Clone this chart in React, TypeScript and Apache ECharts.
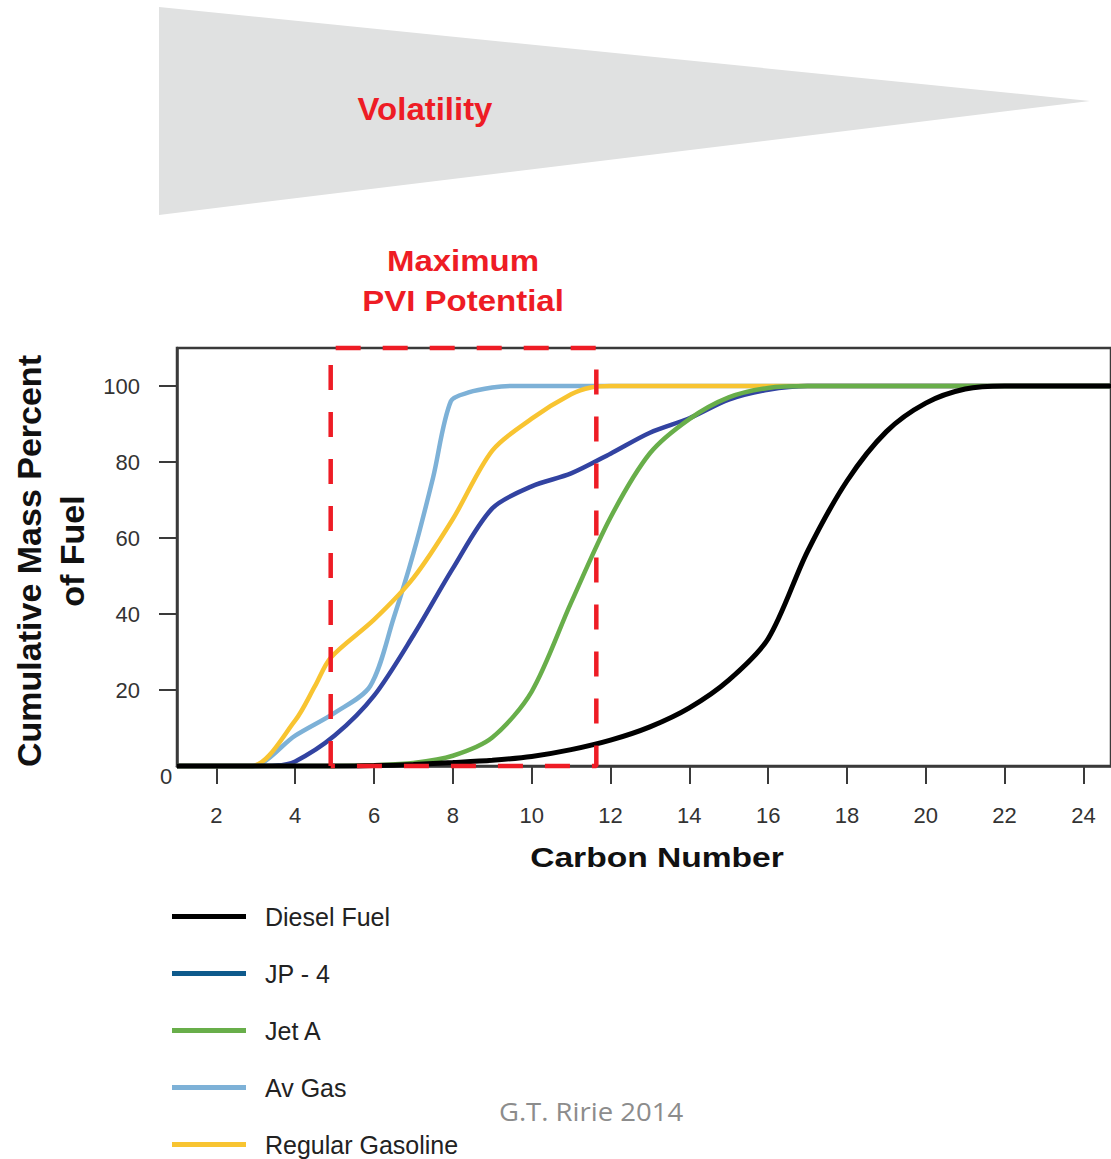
import React, { useEffect, useRef } from "react";
import * as echarts from "echarts";

// ---- axis ranges / ticks ----
const X_MIN = 1;
const X_MAX = 24.7;
const Y_MIN = 0;
const Y_MAX = 110;
const carbonTicks = [2, 4, 6, 8, 10, 12, 14, 16, 18, 20, 22, 24];
const percentTicks = [20, 40, 60, 80, 100];

// ---- "Maximum PVI Potential" window (carbon number) ----
const PVI_MIN = 4.9;
const PVI_MAX = 11.64;

// ---- series (carbon number, cumulative mass percent) ----
const seriesNames = ["Diesel Fuel", "JP - 4", "Jet A", "Av Gas", "Regular Gasoline"];

const dieselCarbon = [1, 2, 3, 4, 5, 6, 7, 8, 9, 10, 11, 12, 13, 14, 15, 16, 17, 18, 19, 20, 21, 22, 23, 24, 24.7];
const dieselPct = [0, 0, 0, 0, 0, 0.1, 0.4, 0.9, 1.5, 2.5, 4.3, 6.8, 10.3, 15.3, 22.6, 33.5, 56.5, 75, 88, 95.5, 99.2, 100, 100, 100, 100];

const jp4Carbon = [1, 2, 3, 3.5, 4, 5, 6, 7, 8, 9, 10, 11, 12, 13, 14, 15, 16, 17, 18, 24.7];
const jp4Pct = [0, 0, 0, 0.1, 1.2, 8, 18.5, 34.4, 52, 67.8, 73.6, 77, 82.2, 87.7, 91.5, 96.4, 99, 100, 100, 100];

const jetACarbon = [1, 2, 3, 4, 5, 6, 7, 8, 9, 10, 11, 12, 13, 14, 15, 16, 17, 18, 24.7];
const jetAPct = [0, 0, 0, 0, 0, 0.2, 0.8, 2.7, 7.5, 19.6, 43, 65.4, 82.3, 91.3, 97, 99.5, 100, 100, 100];

const avGasCarbon = [1, 2, 2.9, 4, 5, 5.9, 6.5, 7, 7.5, 7.95, 8.4, 9, 9.5, 24.7];
const avGasPct = [0, 0, 0, 8, 14, 21, 39, 56, 76, 96, 98.3, 99.6, 100, 100];

const gasolineCarbon = [1, 2, 2.9, 4, 4.5, 4.9, 6, 7, 8, 9, 10, 11, 11.5, 12, 24.7];
const gasolinePct = [0, 0, 0, 12, 21, 28.5, 38.5, 49.5, 65, 83, 91.4, 97.8, 99.6, 100, 100];

const zip = (xs: number[], ys: number[]) => xs.map((x, i) => [x, ys[i]]);

const RED = "#ee1c25";
const AXIS = "#3a3a3a";

export default function App() {
  const ref = useRef<HTMLDivElement>(null);

  useEffect(() => {
    if (!ref.current) return;
    const chart = echarts.init(ref.current, undefined, { renderer: "svg" });

    const mk = (name: string, xs: number[], ys: number[], color: string, z: number, width = 4.5) => ({
      name,
      type: "line",
      data: zip(xs, ys),
      symbol: "none",
      smooth: 0.3,
      clip: false,
      z,
      lineStyle: { width, color },
      itemStyle: { color },
      emphasis: { disabled: true },
    });

    const textStyle = (text: string, font: string, fill: string) => ({
      text,
      fill,
      font,
      align: "center",
      verticalAlign: "middle",
      textAlign: "center",
      textVerticalAlign: "middle",
    });

    const option: any = {
      animation: false,
      backgroundColor: "#ffffff",
      grid: {
        left: 177,
        right: -4,
        top: 348,
        bottom: 393,
        show: true,
        borderColor: AXIS,
        borderWidth: 2.5,
        backgroundColor: "transparent",
      },
      xAxis: {
        type: "value",
        min: X_MIN,
        max: X_MAX,
        axisLine: { show: true, onZero: false, lineStyle: { color: AXIS, width: 2.5 } },
        axisTick: { show: true, length: 18, lineStyle: { color: AXIS, width: 2 }, customValues: carbonTicks },
        axisLabel: {
          customValues: carbonTicks,
          fontSize: 22,
          color: "#333",
          margin: 38,
          fontFamily: "Liberation Sans",
        },
        splitLine: { show: false },
      },
      yAxis: {
        type: "value",
        min: Y_MIN,
        max: Y_MAX,
        axisLine: { show: true, onZero: false, lineStyle: { color: AXIS, width: 2.5 } },
        axisTick: { show: true, length: 18, lineStyle: { color: AXIS, width: 2 }, customValues: percentTicks },
        axisLabel: {
          customValues: percentTicks,
          fontSize: 22,
          color: "#333",
          margin: 37,
          fontFamily: "Liberation Sans",
        },
        splitLine: { show: false },
      },
      legend: {
        orient: "vertical",
        left: 172,
        top: 904,
        height: 400,
        padding: 0,
        icon: "rect",
        itemWidth: 74,
        itemHeight: 5,
        itemGap: 32,
        selectedMode: false,
        textStyle: {
          fontSize: 25,
          lineHeight: 25,
          color: "#222",
          fontFamily: "Liberation Sans",
          padding: [0, 0, 0, 14],
        },
        data: [
          { name: seriesNames[0] },
          { name: seriesNames[1], itemStyle: { color: "#0e5a8c" } },
          { name: seriesNames[2] },
          { name: seriesNames[3] },
          { name: seriesNames[4] },
        ],
      },
      graphic: [
        {
          type: "polygon",
          z: -10,
          shape: { points: [[159, 7], [1090, 101], [159, 215]] },
          style: { fill: "#e0e1e1" },
        },
        { type: "text", x: 425, y: 109, scaleX: 1.03, style: textStyle("Volatility", 'bold 32px "Liberation Sans"', RED) },
        { type: "text", x: 463, y: 261, scaleX: 1.1, style: textStyle("Maximum", 'bold 30px "Liberation Sans"', RED) },
        { type: "text", x: 463, y: 301, scaleX: 1.1, style: textStyle("PVI Potential", 'bold 30px "Liberation Sans"', RED) },
        {
          type: "text",
          x: 29,
          y: 561,
          rotation: Math.PI / 2,
          style: textStyle("Cumulative Mass Percent", 'bold 34px "Liberation Sans"', "#111"),
        },
        {
          type: "text",
          x: 72,
          y: 551,
          rotation: Math.PI / 2,
          style: textStyle("of Fuel", 'bold 34px "Liberation Sans"', "#111"),
        },
        { type: "text", x: 657, y: 857, scaleX: 1.2, style: textStyle("Carbon Number", 'bold 28px "Liberation Sans"', "#111") },
        { type: "text", x: 166, y: 776, style: textStyle("0", '22px "Liberation Sans"', "#333") },
        { type: "text", x: 591, y: 1111, scaleX: 1.1, style: textStyle("G.T. Ririe 2014", '25px "Open Sans"', "#8c8c8c") },
      ],
      series: [
        mk(seriesNames[3], avGasCarbon, avGasPct, "#7db1d7", 2),
        mk(seriesNames[4], gasolineCarbon, gasolinePct, "#f8c431", 3),
        mk(seriesNames[1], jp4Carbon, jp4Pct, "#3243a1", 4),
        mk(seriesNames[2], jetACarbon, jetAPct, "#68ae4a", 5),
        mk(seriesNames[0], dieselCarbon, dieselPct, "#000000", 6, 5),
        {
          name: "PVI window",
          type: "line",
          data: [
            [PVI_MIN, Y_MIN],
            [PVI_MIN, Y_MAX],
            [PVI_MAX, Y_MAX],
            [PVI_MAX, Y_MIN],
            [PVI_MIN, Y_MIN],
          ],
          symbol: "none",
          clip: false,
          z: 10,
          silent: true,
          lineStyle: { color: RED, width: 4.5, type: [25, 22] },
          itemStyle: { color: RED },
          emphasis: { disabled: true },
        },
      ],
    };

    chart.setOption(option);
    return () => chart.dispose();
  }, []);

  return (
    <div
      ref={ref}
      style={{ position: "absolute", left: 0, top: 0, width: 1111, height: 1159 }}
    />
  );
}
